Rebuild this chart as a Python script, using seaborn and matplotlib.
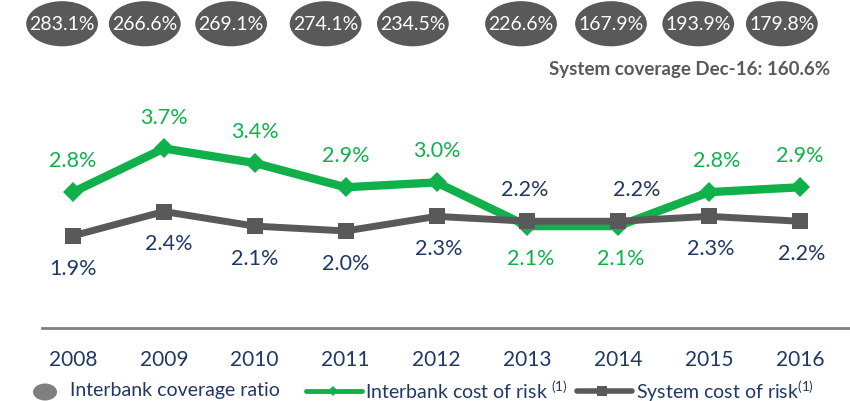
import numpy as np
import pandas as pd
import matplotlib
matplotlib.use("Agg")
import matplotlib.pyplot as plt
from matplotlib.patches import Ellipse
import seaborn as sns

# ---------------- data ----------------
years = ["2008", "2009", "2010", "2011", "2012", "2013", "2014", "2015", "2016"]
coverage_ratio = [283.1, 266.6, 269.1, 274.1, 234.5, 226.6, 167.9, 193.9, 179.8]
interbank_cost_of_risk = [2.8, 3.7, 3.4, 2.9, 3.0, 2.1, 2.1, 2.8, 2.9]
system_cost_of_risk = [1.9, 2.4, 2.1, 2.0, 2.3, 2.2, 2.2, 2.3, 2.2]
system_coverage_note = "System coverage Dec-16: 160.6%"
legend_labels = ["Interbank coverage ratio",
                 "Interbank cost of risk $^{(1)}$",
                 "System cost of risk$^{(1)}$"]

# ---------------- layout / style ----------------
coverage_x_shift = [-0.12, -0.21, -0.26, -0.22, -0.26, -0.07, -0.08, -0.12, -0.20]
green_side = [1, 1, 1, 1, 1, -1, -1, 1, 1]
system_side = [-1, -1, -1, -1, -1, 1, 1, -1, -1]
green_dx = [0, 0, 0, 0, 0, 3, 2, 8, 0]
system_dx = [0, 5, 0, 0, 2, -3, 18, 2, 2]

GREEN = "#10B14B"
GRAY = "#595959"
NAVY = "#1F3864"

sns.set_theme(style="white")
plt.rcParams["font.family"] = ["Lato", "DejaVu Sans"]
plt.rcParams["mathtext.fontset"] = "custom"
plt.rcParams["mathtext.rm"] = "Lato"
plt.rcParams["mathtext.it"] = "Lato:italic"
plt.rcParams["mathtext.bf"] = "Lato:bold"

W, H = 850, 402
fig = plt.figure(figsize=(W / 100, H / 100), dpi=100)
ax = fig.add_axes([42 / W, (H - 329) / H, (W - 42) / W, 329 / H])

df = pd.DataFrame({
    "idx": np.arange(len(years)),
    "year": years,
    "Interbank": interbank_cost_of_risk,
    "System": system_cost_of_risk,
})

sns.lineplot(data=df, x="idx", y="Interbank", ax=ax, color=GREEN, lw=6,
             marker="D", markersize=10, markeredgewidth=0, zorder=2)
sns.lineplot(data=df, x="idx", y="System", ax=ax, color=GRAY, lw=5,
             marker="s", markersize=11, markeredgewidth=0, zorder=3)

ax.set_xlim(-0.341, 8.55)
ax.set_ylim(0, 6.78)
for s in ["left", "right", "top"]:
    ax.spines[s].set_visible(False)
ax.spines["bottom"].set_color("#7F7F7F")
ax.spines["bottom"].set_linewidth(2)
ax.set_yticks([])
ax.set_xticks(df["idx"])
ax.set_xticklabels(years)
ax.tick_params(axis="x", length=0, pad=15, labelsize=15, labelcolor=NAVY)
ax.set_xlabel("")
ax.set_ylabel("")

# value labels
off = 23
for i, v in enumerate(interbank_cost_of_risk):
    ax.annotate(f"{v:.1f}%", (i, v), xytext=(green_dx[i] * 0.72, green_side[i] * off),
                textcoords="offset points", ha="center", va="center",
                color=GREEN, fontsize=15.5)
for i, v in enumerate(system_cost_of_risk):
    ax.annotate(f"{v:.1f}%", (i, v), xytext=(system_dx[i] * 0.72, system_side[i] * off),
                textcoords="offset points", ha="center", va="center",
                color=NAVY, fontsize=15.5)

# coverage ellipses
for i, v in enumerate(coverage_ratio):
    xc = i + coverage_x_shift[i]
    ax.add_patch(Ellipse((xc, 6.27), width=0.79, height=0.93, facecolor=GRAY,
                         edgecolor="none", clip_on=False, zorder=4))
    ax.text(xc, 6.27, f"{v:.1f}%", ha="center", va="center", color="white",
            fontsize=14, zorder=5, clip_on=False)

fig.text(830 / W, 1 - 70 / H, system_coverage_note, ha="right", va="center",
         color=GRAY, fontsize=13.5, fontweight="bold")

# legend (manual)
lax = fig.add_axes([0, 0, 1, 26 / H])
lax.set_xlim(0, W)
lax.set_ylim(H, H - 26)
lax.axis("off")
lax.add_patch(Ellipse((45, 393), 24, 17, facecolor="#7F7F7F", edgecolor="none"))
lax.text(70, 391, legend_labels[0], ha="left", va="center", color=NAVY, fontsize=14)
lax.plot([306, 362], [392, 392], color=GREEN, lw=3.5, marker=None)
lax.plot([333], [392], color=GREEN, marker="D", markersize=5.5, mew=0)
lax.text(365, 391, legend_labels[1], ha="left", va="center", color=NAVY, fontsize=14)
lax.plot([577, 632], [392, 392], color=GRAY, lw=4, marker=None)
lax.plot([602], [392], color=GRAY, marker="s", markersize=7, mew=0)
lax.text(636, 391, legend_labels[2], ha="left", va="center", color=NAVY, fontsize=14)

fig.savefig("out.png", dpi=100)
